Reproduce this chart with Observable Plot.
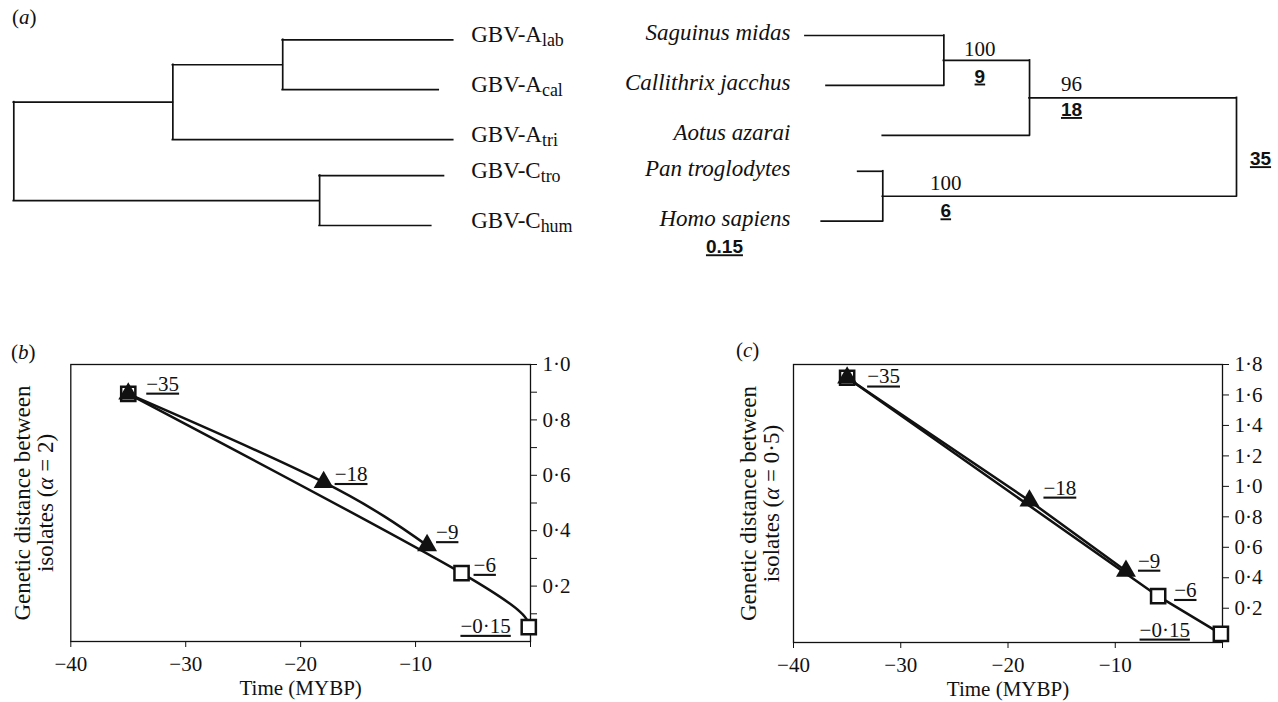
<!DOCTYPE html>
<html><head><meta charset="utf-8">
<script src="https://cdn.jsdelivr.net/npm/d3@7"></script>
<script src="https://cdn.jsdelivr.net/npm/@observablehq/plot@0.6"></script>
<style>
html,body{margin:0;padding:0;background:#fff;}
#fig{position:relative;width:1278px;height:702px;overflow:hidden;font-family:'Liberation Serif',serif;color:#111;background:#fff;}
.panel{position:absolute;}
.panel svg{overflow:visible;}
.tag{position:absolute;font-size:21px;line-height:1;}
.tag i{font-style:italic;}
g[aria-description="underline"] text{text-decoration:underline;}
</style></head><body>
<div id="fig">
  <div class="tag" style="left:12px;top:7px">(<i>a</i>)</div>
  <div class="tag" style="left:11px;top:342px">(<i>b</i>)</div>
  <div class="tag" style="left:736px;top:340px">(<i>c</i>)</div>
  <div class="panel" id="treeL" style="left:0;top:0;width:640px"></div>
  <div class="panel" id="treeR" style="left:640px;top:0;width:638px"></div>
  <div class="panel" id="panelB" style="left:0;top:330px;width:640px"></div>
  <div class="panel" id="panelC" style="left:640px;top:330px;width:638px"></div>
</div>
<script>
// ---------- DATA ----------
// (a) left tree: virus isolates (branch depth from root, arbitrary distance units)
const virusNodes   = ["root", "A", "A1", "C", "GBV-A_lab", "GBV-A_cal", "GBV-A_tri", "GBV-C_tro", "GBV-C_hum"];
const virusParents = [null, "root", "A", "root", "A1", "A1", "A", "C", "C"];
const virusDepths  = [0, 36.2, 61.2, 69.6, 100, 96.7, 100, 97.9, 95.0];
// (a) right tree: host species
const hostNodes   = ["root", "SCA", "SC", "PH", "Saguinus midas", "Callithrix jacchus", "Aotus azarai", "Pan troglodytes", "Homo sapiens"];
const hostParents = [null, "root", "SCA", "root", "SC", "SC", "SCA", "PH", "PH"];
const hostDepths  = [0, 47.1, 66.6, 80.5, 98.1, 93.3, 80.5, 86.1, 94.4];
const leafRows = [0, 1, 2, 2.72, 3.72];
const bootNodes  = ["SC", "SCA", "PH"];
const bootValues = [100, 96, 100];
const divNodes = ["SC", "SCA", "PH", "root"];
const divTimes = [9, 18, 6, 35];
const tipTime = "0.15";

// (b), (c) genetic distance vs time
const triangleTimes = [-35, -18, -9];
const squareTimes   = [-35, -6, -0.15];
const distB_triangle = [0.894, 0.575, 0.347];
const distB_square   = [0.894, 0.247, 0.052];
const distC_triangle = [1.713, 0.905, 0.445];
const distC_square   = [1.713, 0.279, 0.032];
const labelTimes = [-35, -18, -9, -6, -0.15];
const xTicks = [-40, -30, -20, -10, 0];
const yTicksB = [0.1, 0.2, 0.3, 0.4, 0.5, 0.6, 0.7, 0.8, 0.9, 1.0];
const yTicksC = [0.2, 0.4, 0.6, 0.8, 1.0, 1.2, 1.4, 1.6, 1.8];

// ---------- HELPERS ----------
const INK = "#111";
const serif = "'Liberation Serif', 'Times New Roman', serif";
const sans = "'Liberation Sans', Arial, sans-serif";
const dotNum = v => v.toFixed(1).replace(".", "\u00b7");
const minusLabel = t => "\u2212" + String(Math.abs(t)).replace(".", "\u00b7");

function layoutTree(names, parents, depths, rows) {
  const nodes = names.map((name, i) => ({name, parent: parents[i], depth: depths[i]}));
  const byName = new Map(nodes.map(n => [n.name, n]));
  nodes.forEach(n => n.children = nodes.filter(c => c.parent === n.name));
  let k = 0;
  nodes.filter(n => !n.children.length).forEach(n => n.y = rows[k++]);
  const getY = n => n.y !== undefined ? n.y : (n.y = d3.mean(n.children, getY));
  nodes.forEach(getY);
  nodes.forEach(n => {
    if (n.parent) n.parentDepth = byName.get(n.parent).depth;
    if (n.children.length) { n.y1 = d3.min(n.children, c => c.y); n.y2 = d3.max(n.children, c => c.y); }
  });
  nodes.byName = byName;
  return nodes;
}

function fix(svg) {
  d3.select(svg).selectAll("text, tspan").each(function () {
    if (this.childElementCount) return;
    const t = this.textContent;
    if (t.includes("_")) {
      const [a, b] = t.split("_");
      this.textContent = "";
      d3.select(this).append("tspan").text(a);
      d3.select(this).append("tspan").attr("dy", "0.22em").style("font-size", "78%").text(b);
    } else if (t.includes("\u03b1")) {
      const [a, b] = t.split("\u03b1");
      this.textContent = "";
      d3.select(this).append("tspan").text(a);
      d3.select(this).append("tspan").style("font-style", "italic").text("\u03b1");
      d3.select(this).append("tspan").text(b);
    }
  });
  return svg;
}

function treeMarks(nodes) {
  return [
    Plot.ruleY(nodes.filter(n => n.parent), {y: "y", x1: "parentDepth", x2: "depth", stroke: INK, strokeWidth: 1.7, strokeLinecap: "square"}),
    Plot.ruleX(nodes.filter(n => n.children.length), {x: "depth", y1: "y1", y2: "y2", stroke: INK, strokeWidth: 1.7, strokeLinecap: "square"})
  ];
}

// ---------- (a) left tree ----------
const V = layoutTree(virusNodes, virusParents, virusDepths, leafRows);
const vLeaves = V.filter(n => !n.children.length);
const vMax = d3.max(virusDepths);
document.getElementById("treeL").append(fix(Plot.plot({
  width: 640, height: 270,
  marginLeft: 13.3, marginRight: 187.3, marginTop: 39.3, marginBottom: 45,
  x: {domain: [0, vMax], axis: null},
  y: {domain: d3.extent(leafRows), reverse: true, axis: null},
  style: {fontFamily: serif, fontSize: "23px", color: INK, background: "transparent"},
  marks: [
    ...treeMarks(V),
    Plot.text(vLeaves, {x: () => vMax, y: "y", text: "name", textAnchor: "start", dx: 18, dy: -5, fill: INK})
  ]
})));

// ---------- (a) right tree ----------
const H = layoutTree(hostNodes, hostParents, hostDepths, leafRows);
const hLeaves = H.filter(n => !n.children.length);
const hMax = d3.max(hostDepths);
const nodeDx = {SC: 36, SCA: 42, PH: 63, root: 24};
const bootDy = {SC: -11, SCA: -14, PH: -13};
const divDy = {SC: 16, SCA: 12, PH: 15, root: 12};
document.getElementById("treeR").append(fix(Plot.plot({
  width: 638, height: 270,
  marginLeft: 156.6, marginRight: 42, marginTop: 35, marginBottom: 49.3,
  x: {domain: [0, 100], reverse: true, axis: null},
  y: {domain: d3.extent(leafRows), reverse: true, axis: null},
  style: {fontFamily: serif, fontSize: "23px", color: INK, background: "transparent"},
  marks: [
    ...treeMarks(H),
    Plot.text(hLeaves, {x: () => hMax, y: "y", text: "name", textAnchor: "end", dx: -15, dy: -3, fontStyle: "italic", fill: INK}),
    ...bootNodes.map((id, i) => Plot.text([H.byName.get(id)], {
      x: "depth", y: "y", text: () => String(bootValues[i]), dx: nodeDx[id], dy: bootDy[id], fontSize: 21, fill: INK
    })),
    ...divNodes.map((id, i) => Plot.text([H.byName.get(id)], {
      x: "depth", y: "y", text: () => String(divTimes[i]), dx: nodeDx[id], dy: divDy[id],
      fontFamily: sans, fontWeight: "bold", fontSize: 19, fill: INK, ariaDescription: "underline"
    })),
    Plot.text([H.byName.get("Homo sapiens")], {
      x: () => hMax, y: "y", text: () => tipTime, dx: -81, dy: 26,
      fontFamily: sans, fontWeight: "bold", fontSize: 19, fill: INK, ariaDescription: "underline"
    })
  ]
})));

// ---------- (b), (c) ----------
function distancePanel({el, width, marginLeft, marginRight, marginBottom, triDist, sqDist, yDomain, yTicks, labelTicks, title, titleDx, curve, offsets}) {
  const tri = triangleTimes.map((t, i) => ({t, d: triDist[i]}));
  const sq = squareTimes.map((t, i) => ({t, d: sqDist[i]}));
  const all = [...sq, ...tri];
  const labelMarks = labelTimes.map((t, i) => {
    const p = all.find(q => q.t === t);
    const [dx, dy, anchor] = offsets[i];
    return Plot.text([p], {x: "t", y: "d", text: () => minusLabel(t), dx, dy, textAnchor: anchor || "start", fill: INK, ariaDescription: "underline"});
  });
  const svg = Plot.plot({
    width, height: 372,
    marginLeft, marginRight, marginTop: 34, marginBottom,
    x: {domain: [-40, 0], ticks: xTicks, tickSize: 6, tickPadding: 9, label: null,
        tickFormat: d => d === 0 ? "" : minusLabel(d)},
    y: {domain: yDomain, axis: "right", ticks: yTicks, tickSize: 6, tickPadding: 6, label: null,
        tickFormat: d => labelTicks.some(v => Math.abs(v - d) < 1e-9) ? dotNum(d) : ""},
    style: {fontFamily: serif, fontSize: "21px", color: INK, background: "transparent"},
    marks: [
      Plot.frame({stroke: INK, strokeWidth: 1.3}),
      Plot.line(sq, {x: "t", y: "d", curve, stroke: INK, strokeWidth: 2.5}),
      Plot.line(tri, {x: "t", y: "d", curve, stroke: INK, strokeWidth: 2.5}),
      Plot.dot(sq, {x: "t", y: "d", symbol: "square", r: 8, fill: "white", stroke: INK, strokeWidth: 2.5}),
      Plot.dot(tri, {x: "t", y: "d", symbol: "triangle", r: 7.4, fill: INK}),
      ...labelMarks,
      Plot.text([title], {frameAnchor: "left", textAnchor: "middle", lineAnchor: "middle", rotate: -90, dx: titleDx, lineHeight: 1.0, fontSize: 23, fill: INK}),
      Plot.text(["Time (MYBP)"], {frameAnchor: "bottom", textAnchor: "middle", lineAnchor: "middle", dy: 47, fill: INK})
    ]
  });
  document.getElementById(el).append(fix(svg));
}

distancePanel({
  el: "panelB", width: 640, marginLeft: 70.3, marginRight: 110, marginBottom: 61,
  triDist: distB_triangle, sqDist: distB_square, yDomain: [0, 1],
  yTicks: yTicksB, labelTicks: yTicksB.filter((v, i) => i % 2 === 1),
  title: "Genetic distance between\nisolates (\u03b1 = 2)", titleDx: -37, curve: "natural",
  offsets: [[18, -10], [11, -8], [9, -13], [12, -8], [-18, -1, "end"]]
});
distancePanel({
  el: "panelC", width: 638, marginLeft: 153, marginRight: 56, marginBottom: 60,
  triDist: distC_triangle, sqDist: distC_square, yDomain: [-0.025, 1.8],
  yTicks: yTicksC, labelTicks: yTicksC,
  title: "Genetic distance between\nisolates (\u03b1 = 0\u00b75)", titleDx: -33, curve: "linear",
  offsets: [[20, -1], [14, -13], [12, -10], [16, -6], [-31, -4, "end"]]
});
</script>
</body></html>
